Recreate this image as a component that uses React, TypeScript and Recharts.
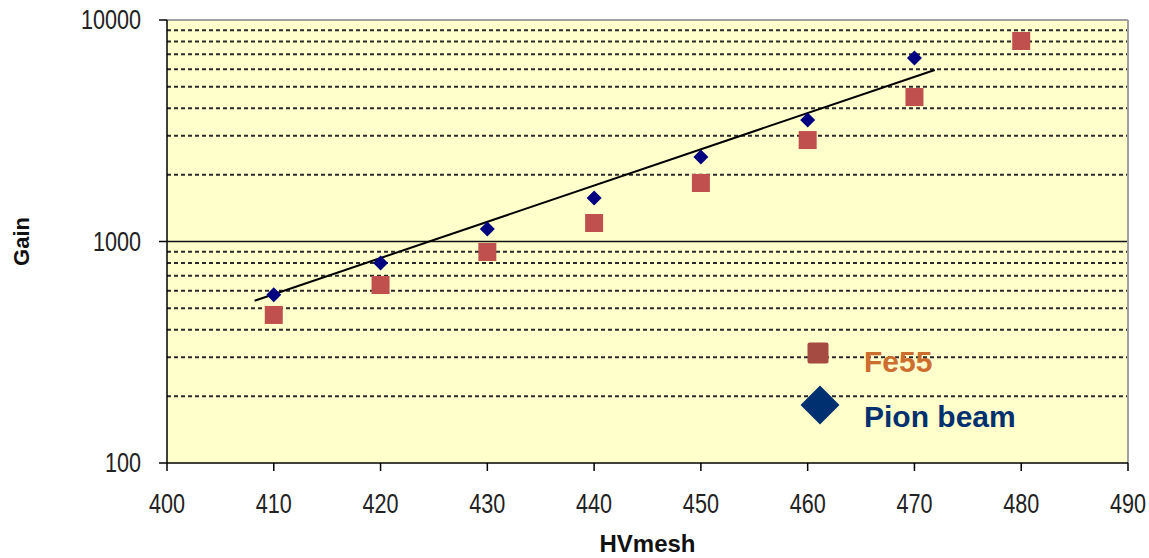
import {
  ReferenceLine,
  Scatter,
  ScatterChart,
  XAxis,
  YAxis,
  CartesianGrid,
} from 'recharts';

// HVmesh voltage for each measurement
const fe55Voltage = [410, 420, 430, 440, 450, 460, 470, 480];
const fe55Gain = [466, 636, 897, 1212, 1837, 2870, 4490, 8040];

const pionVoltage = [410, 420, 430, 440, 450, 460, 470];
const pionGain = [575, 800, 1140, 1570, 2410, 3540, 6730];

// exponential fit through the pion points, drawn as a straight segment on the log axis
const fitVoltage = [408.2, 471.9];
const fitGain = [540, 5950];

const xTicks = [400, 410, 420, 430, 440, 450, 460, 470, 480, 490];
const yTicks = [100, 1000, 10000];
const minorGains = [200, 300, 400, 500, 600, 700, 800, 900, 2000, 3000, 4000, 5000, 6000, 7000, 8000, 9000];

const fe55Data = fe55Voltage.map((hv, i) => ({ hv, gain: fe55Gain[i] }));
const pionData = pionVoltage.map((hv, i) => ({ hv, gain: pionGain[i] }));
const fitData = fitVoltage.map((hv, i) => ({ hv, gain: fitGain[i] }));

const font = '"Liberation Sans", Arial, sans-serif';

// tick labels use a condensed face: regular glyphs squeezed horizontally
const NarrowTick = (props: any) => {
  const { x, y, payload, textAnchor, orientation } = props;
  const dy = orientation === 'bottom' ? 40 : 9;
  return (
    <text
      transform={`translate(${x},${y + dy}) scale(0.8,1)`}
      textAnchor={textAnchor}
      fontFamily={font}
      fontSize={27}
      fill="#222"
    >
      {payload.value}
    </text>
  );
};

const SquareMark = (props: any) => {
  const { cx, cy } = props;
  const s = 18;
  return <rect x={cx - s / 2} y={cy - s / 2} width={s} height={s} fill="#C0504D" />;
};

const DiamondMark = (props: any) => {
  const { cx, cy } = props;
  const r = 7.5;
  return (
    <polygon
      points={`${cx},${cy - r} ${cx + r},${cy} ${cx},${cy + r} ${cx - r},${cy}`}
      fill="#000080"
    />
  );
};

const NoMark = () => null;

const LegendBox = () => (
  <svg
    width={300}
    height={120}
    style={{ position: 'absolute', left: 798, top: 330, display: 'block' }}
  >
    <rect x={9.5} y={12.5} width={21} height={21} rx={2} fill="#A64B42" />
    <text x={66} y={42} fontFamily={font} fontWeight="bold" fontSize={30} fill="#CC6E2E">
      Fe55
    </text>
    <polygon points="22,55.5 41.5,75 22,94.5 2.5,75" fill="#003070" />
    <text x={66} y={97} fontFamily={font} fontWeight="bold" fontSize={30} fill="#003070">
      Pion beam
    </text>
  </svg>
);

export default function App() {
  return (
    <div style={{ position: 'relative', width: 1149, height: 558, overflow: 'hidden' }}>
      <style>{'html, body { margin: 0; padding: 0; overflow: hidden; }'}</style>
      <ScatterChart
        width={1149}
        height={558}
        margin={{ top: 20, right: 21, bottom: 35, left: 17 }}
      >
        <CartesianGrid horizontal={false} vertical={false} fill="#FFFFCC" />
        {minorGains.map((g) => (
          <ReferenceLine
            key={g}
            y={g}
            stroke="#2a2a2a"
            strokeWidth={2}
            strokeDasharray="4 3"
          />
        ))}
        <ReferenceLine y={1000} stroke="#111" strokeWidth={1.5} />
        <ReferenceLine y={10000} stroke="#A0A0A0" strokeWidth={2} />
        <ReferenceLine x={490} stroke="#A0A0A0" strokeWidth={2} />
        <XAxis
          type="number"
          dataKey="hv"
          domain={[400, 490]}
          ticks={xTicks}
          allowDataOverflow
          height={60}
          stroke="#000"
          strokeWidth={1.5}
          tickSize={8}
          tickMargin={2}
          tick={<NarrowTick />}
          label={{
            value: 'HVmesh',
            position: 'insideBottom',
            offset: -29,
            style: { fontFamily: font, fontWeight: 'bold', fontSize: 24, fill: '#111' },
          }}
        />
        <YAxis
          type="number"
          dataKey="gain"
          scale="log"
          domain={[100, 10000]}
          ticks={yTicks}
          allowDataOverflow
          width={150}
          stroke="#000"
          strokeWidth={1.5}
          tickSize={8}
          tickMargin={18}
          tick={<NarrowTick />}
          label={{
            value: 'Gain',
            angle: -90,
            position: 'insideLeft',
            offset: 4,
            style: { fontFamily: font, fontWeight: 'bold', fontSize: 22, fill: '#111', textAnchor: 'middle' },
          }}
        />
        <Scatter
          name="Fit"
          data={fitData}
          line={{ stroke: '#000', strokeWidth: 2 }}
          shape={NoMark}
          isAnimationActive={false}
        />
        <Scatter name="Fe55" data={fe55Data} shape={SquareMark} isAnimationActive={false} />
        <Scatter name="Pion beam" data={pionData} shape={DiamondMark} isAnimationActive={false} />
      </ScatterChart>
      <LegendBox />
    </div>
  );
}
